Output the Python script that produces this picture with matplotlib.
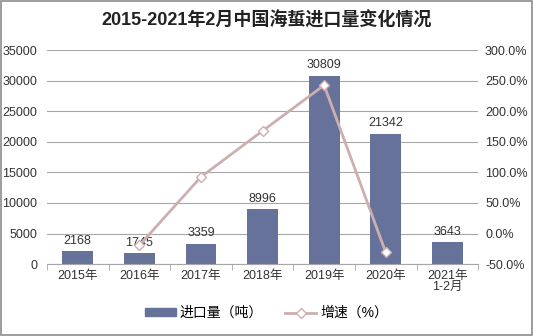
import matplotlib
matplotlib.use("Agg")
import matplotlib.pyplot as plt
from matplotlib.lines import Line2D
from matplotlib.patches import Patch, Rectangle

plt.rcParams['font.family'] = ['Liberation Sans', 'Noto Sans CJK SC', 'DejaVu Sans']

#data
years = ["2015年", "2016年", "2017年", "2018年", "2019年", "2020年", "2021年\n1-2月"]
imports = [2168, 1745, 3359, 8996, 30809, 21342, 3643]
growth_years = [1, 2, 3, 4, 5]
growth = [-19.5, 92.5, 167.8, 242.5, -30.7]

bar_color = "#67729A"
line_color = "#CDAFAF"
grid_color = "#A6A6A6"

fig = plt.figure(figsize=(5.33, 3.36), dpi=100)
fig.patches.append(Rectangle((0.002, 0.002), 0.996, 0.996, transform=fig.transFigure,
                             fill=False, edgecolor="#8C8C8C", linewidth=1.2))
ax = fig.add_axes([0.088, 0.214, 0.809, 0.637])
ax2 = ax.twinx()

x = list(range(len(years)))
ax.bar(x, imports, width=0.5, color=bar_color, zorder=2)
for xi, v in zip(x, imports):
    ax.text(xi, v + 700, str(v), ha="center", va="bottom", fontsize=9, color="#333333")

ax.set_ylim(0, 35000)
ax.set_yticks(range(0, 35001, 5000))
ax.set_xlim(-0.5, len(years) - 0.5)
ax.set_xticks(x)
ax.set_xticklabels(years, fontsize=9, color="#333333", linespacing=0.9)
ax.set_xticks([i + 0.5 for i in range(-1, len(years))], minor=True)
ax.tick_params(axis="x", which="major", length=0, pad=4)
ax.tick_params(axis="x", which="minor", length=4, color=grid_color)
ax.tick_params(axis="y", length=0, labelsize=9, labelcolor="#333333", pad=7)
ax.yaxis.grid(True, color=grid_color, linewidth=0.8)
ax.set_axisbelow(True)
for s in ["top", "left", "right"]:
    ax.spines[s].set_visible(False)
    ax2.spines[s].set_visible(False)
ax.spines["bottom"].set_color(grid_color)
ax2.spines["bottom"].set_visible(False)

ax2.plot(growth_years, growth, color=line_color, linewidth=2, marker="D", markersize=5,
         markerfacecolor="white", markeredgecolor=line_color, zorder=3)
ax2.set_ylim(-50, 300)
ax2.set_yticks(range(-50, 301, 50))
ax2.set_yticklabels([f"{v:.1f}%" for v in range(-50, 301, 50)])
ax2.tick_params(axis="y", length=0, labelsize=9, labelcolor="#333333", pad=5)

fig.text(0.5, 0.94, "2015-2021年2月中国海蜇进口量变化情况", ha="center", va="center",
         fontsize=13, fontweight="bold", color="#222222")

handles = [Patch(color=bar_color),
           Line2D([0], [0], color=line_color, linewidth=2, marker="D", markersize=5,
                  markerfacecolor="white", markeredgecolor=line_color)]
fig.legend(handles, ["进口量（吨）", "增速（%）"], loc="center", bbox_to_anchor=(0.5, 0.068),
           ncol=2, frameon=False, fontsize=10, handlelength=2.2, handleheight=0.45,
           columnspacing=1.6, handletextpad=0.3)

fig.savefig("out.png", dpi=100)
